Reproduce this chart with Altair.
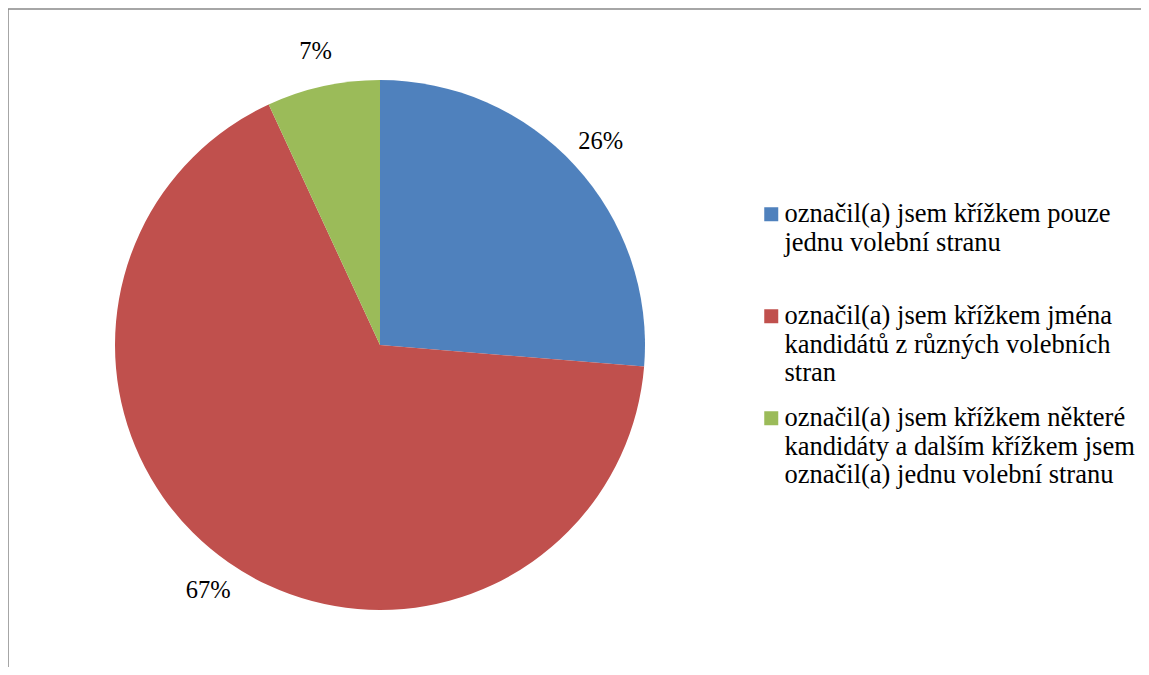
import altair as alt
import pandas as pd

categories = [
    "označil(a) jsem křížkem pouze\njednu volební stranu",
    "označil(a) jsem křížkem jména\nkandidátů z různých volebních\nstran",
    "označil(a) jsem křížkem některé\nkandidáty a dalším křížkem jsem\noznačil(a) jednu volební stranu",
]
values = [26.3, 66.8, 6.9]
labels = ["26%", "67%", "7%"]
colors = ["#4F81BD", "#C0504D", "#9BBB59"]

df = pd.DataFrame({
    "cat": categories,
    "value": values,
    "label": labels,
    "order": list(range(len(categories))),
})

FONT = "Liberation Serif, Tinos, 'Times New Roman', 'DejaVu Serif', serif"
W, H = 1133, 659

base = alt.Chart(df).encode(
    theta=alt.Theta("value:Q", stack=True),
    order=alt.Order("order:Q"),
)

pie = base.mark_arc(radius=265).encode(
    x=alt.value(372),
    y=alt.value(337),
    color=alt.Color(
        "cat:N",
        sort=categories,
        scale=alt.Scale(domain=categories, range=colors),
        legend=alt.Legend(
            title=None,
            orient="none",
            legendX=748,
            legendY=193,
            padding=0,
            symbolType="square",
            symbolSize=196,
            symbolStrokeWidth=0,
            symbolOffset=2,
            labelFont=FONT,
            labelFontSize=26.5,
            labelColor="#000000",
            labelBaseline="middle",
            labelOffset=0,
            labelLimit=600,
            gridAlign="all",
            rowPadding=18,
            labelExpr="split(datum.label, '\\n')",
        ),
    ),
)

text = base.mark_text(
    radius=300, font=FONT, fontSize=24.5, color="#000000"
).encode(
    x=alt.value(372),
    y=alt.value(337),
    text="label:N",
)

frame_df = pd.DataFrame({"edge": ["top", "left"]})
top_line = alt.Chart(frame_df).transform_filter("datum.edge == 'top'").mark_rule(
    color="#888888", strokeWidth=1.5
).encode(x=alt.value(0), x2=alt.value(W), y=alt.value(1))
left_line = alt.Chart(frame_df).transform_filter("datum.edge == 'left'").mark_rule(
    color="#888888", strokeWidth=1.5
).encode(x=alt.value(0), y=alt.value(1), y2=alt.value(H))

chart = (
    alt.layer(top_line, left_line, pie, text)
    .properties(width=W, height=H, padding=0, autosize=alt.AutoSizeParams(type="none"))
    .configure_view(stroke=None)
)

chart.save("out.html", embed_options={"renderer": "svg", "actions": False})
